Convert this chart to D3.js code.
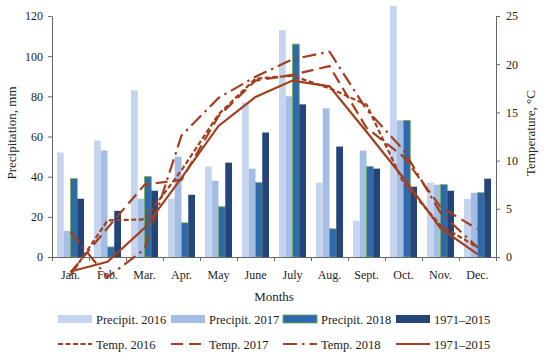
<!DOCTYPE html>
<html>
<head>
<meta charset="utf-8">
<script src="https://cdn.jsdelivr.net/npm/d3@7"></script>
<style>
  body { margin: 0; background: #fff; }
  svg text { font-family: "Liberation Serif", "DejaVu Serif", serif; fill: #222; }
</style>
</head>
<body>
<svg id="chart" width="550" height="353"></svg>
<script>
const months = ["Jan.", "Feb.", "Mar.", "Apr.", "May", "June", "July", "Aug.", "Sept.", "Oct.", "Nov.", "Dec."];

const precipSeries = ["Precipit. 2016", "Precipit. 2017", "Precipit. 2018", "1971–2015"];
const precip2016 = [52, 58, 83, 29, 45, 77, 113, 37, 18, 125, 37, 29];
const precip2017 = [13, 53, 29, 50, 38, 44, 80, 74, 53, 68, 36, 32];
const precip2018 = [39, 5, 40, 17, 25, 37, 106, 14, 45, 68, 36, 32];
const precipNorm = [29, 23, 33, 31, 47, 62, 76, 55, 44, 35, 33, 39];

const tempSeries = ["Temp. 2016", "Temp. 2017", "Temp. 2018", "1971–2015"];
const temp2016 = [-1.9, 3.8, 3.9, 9.0, 14.8, 18.5, 18.8, 17.5, 15.8, 7.7, 3.3, 1.0];
const temp2017 = [-1.6, 3.0, 7.5, 8.0, 14.6, 18.3, 18.9, 19.8, 13.4, 10.4, 5.2, 2.9];
const temp2018 = [2.6, -2.1, 0.8, 12.6, 16.5, 18.7, 20.5, 21.3, 15.3, 11.1, 4.6, 1.0];
const tempNorm = [-1.5, -0.5, 3.0, 8.2, 13.6, 16.6, 18.3, 17.7, 13.0, 8.2, 3.0, 0.3];

const precipData = [precip2016, precip2017, precip2018, precipNorm];
const tempData = [temp2016, temp2017, temp2018, tempNorm];

const barColors = ["#c6d5ef", "#a3bde4", "#3068ad", "#234579"];
const lineColor = "#a33e1f";
const dashes = ["5,2.5", "12,6", "14,5,2.5,5", null];

const svg = d3.select("#chart");
const plotLeft = 52, plotRight = 496, plotTop = 16, plotBottom = 257;
const axisColor = "#666";

const x0 = d3.scaleBand().domain(months).range([plotLeft, plotRight]).padding(0);
const x1 = d3.scaleBand().domain(precipSeries).range([0, x0.bandwidth()]).paddingOuter(0.74);
const yP = d3.scaleLinear().domain([0, 120]).range([plotBottom, plotTop]);
const yT = d3.scaleLinear().domain([0, 25]).range([plotBottom, plotTop]);

// bars
const groups = svg.append("g")
  .selectAll("g")
  .data(months)
  .join("g")
  .attr("transform", (m) => `translate(${x0(m)},0)`);

groups.selectAll("rect")
  .data((m, i) => precipSeries.map((s, k) => ({ s, k, v: precipData[k][i] })))
  .join("rect")
  .attr("x", (d) => x1(d.s))
  .attr("width", x1.bandwidth())
  .attr("y", (d) => yP(d.v))
  .attr("height", (d) => yP(0) - yP(d.v))
  .attr("fill", (d) => barColors[d.k])
  .attr("stroke", (d) => (d.k === 2 ? "#6fae4c" : "none"))
  .attr("stroke-width", 0.8);

// axes
const styleAxis = (g) => {
  g.selectAll("path, line").attr("stroke", axisColor);
  g.selectAll("text").attr("font-size", 12).attr("font-family", "Liberation Serif, serif").attr("fill", "#222");
};

svg.append("g")
  .attr("transform", `translate(${plotLeft},0)`)
  .call(d3.axisLeft(yP).tickValues(d3.range(0, 121, 20)).tickSize(4).tickSizeOuter(0).tickPadding(5))
  .call(styleAxis);

svg.append("g")
  .attr("transform", `translate(${plotRight},0)`)
  .call(d3.axisRight(yT).tickValues(d3.range(0, 26, 5)).tickSize(4).tickSizeOuter(0).tickPadding(6))
  .call(styleAxis);

const xTicks = d3.scaleLinear().domain([0, 12]).range([plotLeft, plotRight]);
svg.append("g")
  .attr("transform", `translate(0,${plotBottom})`)
  .call(d3.axisBottom(xTicks).ticks(12).tickFormat("").tickSize(4).tickSizeOuter(0))
  .call(styleAxis);

svg.append("g")
  .attr("transform", `translate(0,${plotBottom})`)
  .call(d3.axisBottom(x0).tickSize(0).tickPadding(13))
  .call(styleAxis)
  .call((g) => g.select(".domain").remove());

// temperature lines
const line = d3.line()
  .x((d, i) => x0(months[i]) + x0.bandwidth() / 2)
  .y((d) => yT(d));

tempData.forEach((vals, k) => {
  svg.append("path")
    .datum(vals)
    .attr("d", line)
    .attr("fill", "none")
    .attr("stroke", lineColor)
    .attr("stroke-width", 2.2)
    .attr("stroke-dasharray", dashes[k]);
});

// axis titles
svg.append("text")
  .attr("transform", "translate(16,133) rotate(-90)")
  .attr("text-anchor", "middle")
  .attr("font-size", 13)
  .text("Precipitation, mm");

svg.append("text")
  .attr("transform", "translate(535,133) rotate(-90)")
  .attr("text-anchor", "middle")
  .attr("font-size", 13)
  .text("Temperature, °C");

svg.append("text")
  .attr("x", (plotLeft + plotRight) / 2)
  .attr("y", 301)
  .attr("text-anchor", "middle")
  .attr("font-size", 13)
  .text("Months");

// legend
const legendX = [58, 171, 283, 396];
const swatchW = 34;

const row1 = svg.append("g").selectAll("g")
  .data(precipSeries)
  .join("g")
  .attr("transform", (d, i) => `translate(${legendX[i]},319)`);

row1.append("rect")
  .attr("y", -4)
  .attr("width", swatchW)
  .attr("height", 8)
  .attr("fill", (d, i) => barColors[i])
  .attr("stroke", (d, i) => (i === 2 ? "#6fae4c" : "none"))
  .attr("stroke-width", 0.8);

row1.append("text")
  .attr("x", swatchW + 4)
  .attr("y", 4.5)
  .attr("font-size", 12.5)
  .text((d) => d);

const row2 = svg.append("g").selectAll("g")
  .data(tempSeries)
  .join("g")
  .attr("transform", (d, i) => `translate(${legendX[i]},344)`);

row2.append("line")
  .attr("x1", 0)
  .attr("x2", swatchW)
  .attr("stroke", lineColor)
  .attr("stroke-width", 2.2)
  .attr("stroke-dasharray", (d, i) => dashes[i]);

row2.append("text")
  .attr("x", swatchW + 4)
  .attr("y", 4.5)
  .attr("font-size", 12.5)
  .text((d) => d);
</script>
</body>
</html>
